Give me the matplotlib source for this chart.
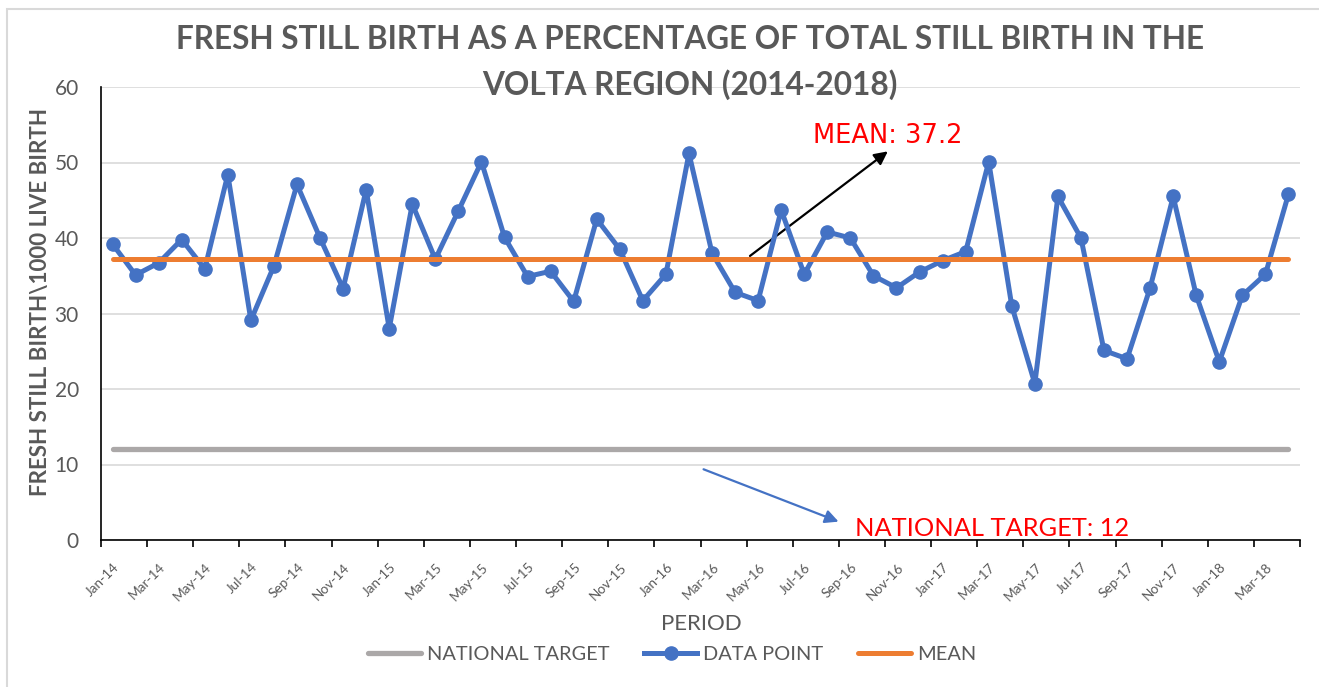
import numpy as np
import matplotlib
matplotlib.use("Agg")
import matplotlib.pyplot as plt
import matplotlib.patches as mp
from matplotlib.transforms import ScaledTranslation

plt.rcParams["font.family"] = ["Lato", "DejaVu Sans"]

# ---- data ----
MONTHS = ["Jan", "Feb", "Mar", "Apr", "May", "Jun", "Jul", "Aug", "Sep", "Oct", "Nov", "Dec"]
periods = [f"{m}-{y}" for y in ["14", "15", "16", "17", "18"] for m in MONTHS][:52]  # Jan-14 .. Apr-18
data_point = [39.2, 35.1, 36.7, 39.8, 35.9, 48.4, 29.1, 36.3, 47.1, 40.0,
              33.3, 46.4, 28.0, 44.5, 37.2, 43.6, 50.1, 40.1, 34.9, 35.6,
              31.6, 42.5, 38.5, 31.7, 35.2, 51.2, 38.0, 32.8, 31.7, 43.7,
              35.2, 40.8, 40.0, 35.0, 33.4, 35.5, 37.0, 38.2, 50.1, 31.0,
              20.7, 45.5, 40.0, 25.1, 24.0, 33.4, 45.5, 32.4, 23.6, 32.4,
              35.2, 45.8]
MEAN = 37.2
TARGET = 12

GREY_TXT = "#595959"
BLUE = "#4472C4"
ORANGE = "#ED7D31"
GREY = "#ABA8A8"

n = len(data_point)
x = np.arange(n)

fig = plt.figure(figsize=(13.19, 6.87), dpi=100)
# chart-area border
fig.patches.append(mp.Rectangle((7 / 1319, -0.05), 1.1, 1 - 9 / 687 + 0.05, transform=fig.transFigure,
                                fill=False, edgecolor="#D9D9D9", lw=1.5))

ax = fig.add_axes([101 / 1319, 147 / 687, 1199 / 1319, 453 / 687])
ax.plot(x, [TARGET] * n, color=GREY, lw=3.8, solid_capstyle="round", label="NATIONAL TARGET", zorder=3)
ax.plot(x, data_point, color=BLUE, lw=3.6, marker="o", ms=9.5, label="DATA POINT", zorder=4)
ax.plot(x, [MEAN] * n, color=ORANGE, lw=3.6, solid_capstyle="round", label="MEAN", zorder=5)

ax.set_xlim(-0.5, n - 0.5)
ax.set_ylim(0, 60)
ax.set_yticks(range(0, 61, 10))
ax.grid(axis="y", color="#D9D9D9", lw=1.2)
ax.set_axisbelow(True)
for s in ["top", "right"]:
    ax.spines[s].set_visible(False)
for s in ["left", "bottom"]:
    ax.spines[s].set_color("black")
    ax.spines[s].set_linewidth(1.2)
ax.tick_params(axis="y", length=0, labelsize=15, labelcolor=GREY_TXT, pad=16)

# category boundary ticks every second month, label at tick
tick_pos = np.arange(-0.5, n - 1, 2)
ax.set_xticks(np.append(tick_pos, n - 0.5))
ax.set_xticklabels([periods[int(p + 0.5)] for p in tick_pos] + [""],
                   rotation=45, ha="right", va="top", rotation_mode="anchor",
                   fontsize=9.8, color=GREY_TXT)
ax.tick_params(axis="x", length=5, width=1.2, direction="out", pad=0)
shift = ScaledTranslation(0.12, -0.14, fig.dpi_scale_trans)
for lab in ax.get_xticklabels():
    lab.set_transform(lab.get_transform() + shift)

# annotations
ax.annotate("", xy=(33.72, 51.7), xytext=(27.55, 37.4),
            arrowprops=dict(arrowstyle="-|>", color="black", lw=1.6, mutation_scale=20))
ax.text(30.38, 52.6, "MEAN: 37.2", color="red", fontsize=18.5, ha="left", va="baseline",
        family="DejaVu Sans")
ax.annotate("", xy=(31.6, 2.3), xytext=(25.52, 9.5),
            arrowprops=dict(arrowstyle="-|>", color=BLUE, lw=1.6, mutation_scale=20))
ax.text(32.2, 0.53, "NATIONAL TARGET: 12", color="red", fontsize=18.3, ha="left", va="baseline",
        clip_on=False)

fig.text(0.523, 1 - 49 / 687, "FRESH STILL BIRTH AS A PERCENTAGE OF TOTAL STILL BIRTH IN THE",
         ha="center", va="baseline", fontsize=22.7, fontweight="bold", color=GREY_TXT)
fig.text(0.523, 1 - 95 / 687, "VOLTA REGION (2014-2018)",
         ha="center", va="baseline", fontsize=22.7, fontweight="bold", color=GREY_TXT)
fig.text(0.0307, 0.560, "FRESH STILL BIRTH\\1000 LIVE BIRTH", rotation=90, ha="center", va="center",
         fontsize=16.1, fontweight="bold", color=GREY_TXT)
fig.text(0.5315, 1 - 624 / 687, "PERIOD", ha="center", va="center", fontsize=16, color=GREY_TXT)

fig.legend(loc="center", bbox_to_anchor=(0.5095, 1 - 654 / 687), ncol=3, frameon=False, fontsize=14.4,
           handlelength=2.65, columnspacing=1.75, handletextpad=0.3, labelcolor=GREY_TXT)

fig.savefig("out.png", dpi=100)
